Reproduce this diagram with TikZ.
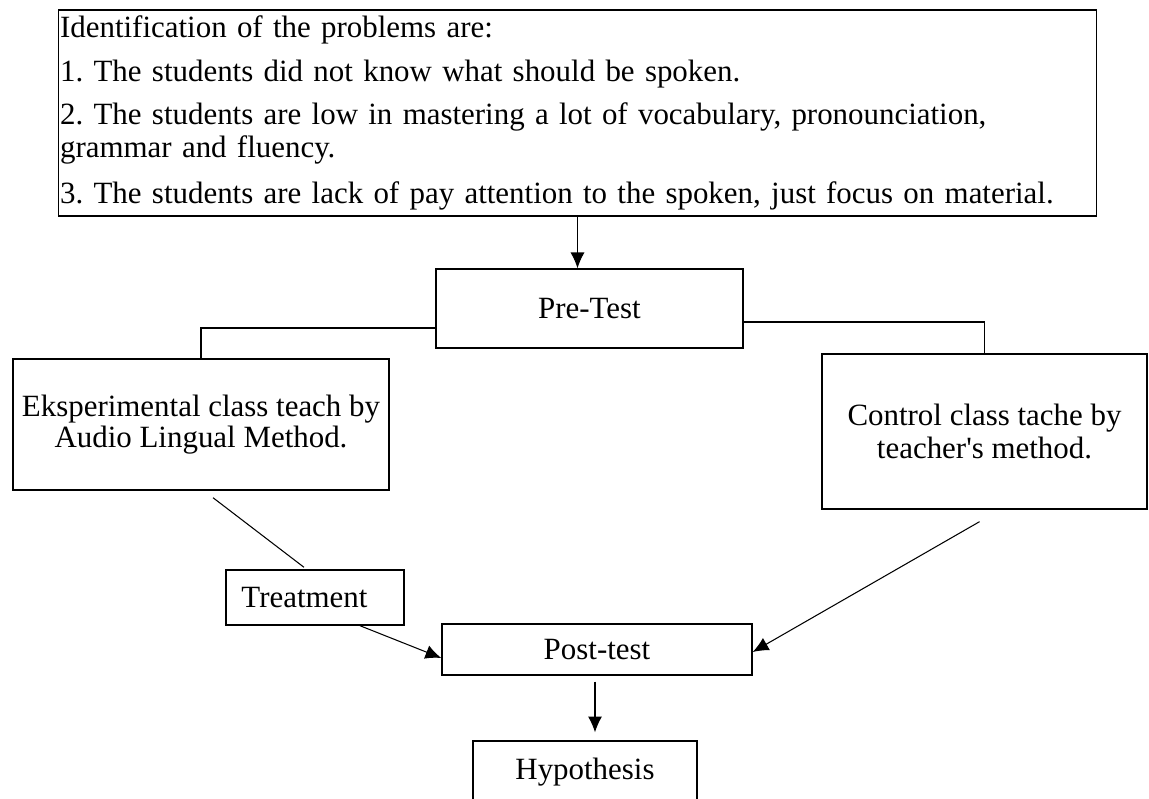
\documentclass[tikz,border=0pt]{standalone}
\usepackage{fontspec}
\setmainfont{Liberation Serif}[Ligatures=TeXOff]
\usetikzlibrary{arrows.meta,calc}

\def \boxline {0.8pt}
\def \wireline {0.6pt}

\begin{document}
\frenchspacing
\begin{tikzpicture}[x=0.02cm, y=-0.02cm, font=\fontsize{17.6}{18.7}\selectfont,
  box/.style={draw, rectangle, line width=\boxline, inner sep=1pt, align=center},
  wire/.style={line width=\wireline},
  flow/.style={wire, ->, >={Latex[length=9pt, width=8pt]}}]
\path[use as bounding box, clip] (0,0) rectangle (1149,798);
\draw (577.5,113) node[box, align=left, text width=20.7cm, minimum height=4.12cm] (problems) {Identification of the problems are:\\[6pt]
1. The students did not know what should be spoken.\\[6pt]
2. The students are low in mastering a lot of vocabulary, pronounciation,\\
grammar and fluency.\\[7.4pt]
3. The students are lack of pay attention to the spoken, just focus on material.}; % problems
\draw (589.5,308.5) node[box, minimum width=6.14cm, minimum height=1.58cm] (pretest) {Pre-Test};
\draw (201,424.5) node[box, minimum width=7.52cm, minimum height=2.62cm] (eks) {Eksperimental class teach by\\[-1pt] Audio Lingual Method.}; % experiment
\draw (984.5,431.5) node[box, minimum width=6.5cm, minimum height=3.1cm] (control) {Control class tache by\\ teacher's method.}; % control
\draw (315,597.5) node[box, minimum width=3.56cm, minimum height=1.1cm] (treatment) {Treatment\hspace*{12pt}};
\draw (597,649.5) node[box, minimum width=6.2cm, minimum height=1.02cm] (posttest) {Post-test};
\draw (585,772) node[box, minimum width=4.48cm, minimum height=1.24cm] (hypothesis) {Hypothesis};
\draw[flow] (problems.south) -- (problems.south |- pretest.north);
\draw[wire] ($(pretest.west)+(0,19.5)$) -| (eks.north);
\draw[wire] ($(pretest.east)+(0,13.5)$) -| (control.north);
\draw[wire] ($(eks.south)+(12,7)$) -- ($(treatment.north)+(-11,-2)$);
\draw[flow] ($(treatment.south)+(45,0)$) -- ($(posttest.west)+(0,8.5)$);
\draw[flow] ($(control.south)+(-5,12)$) -- ($(posttest.east)+(0,2.5)$);
\draw[flow] ($(posttest.south)+(-2,6)$) -- ($(hypothesis.north)+(10,-8)$);
\end{tikzpicture}
\end{document}
